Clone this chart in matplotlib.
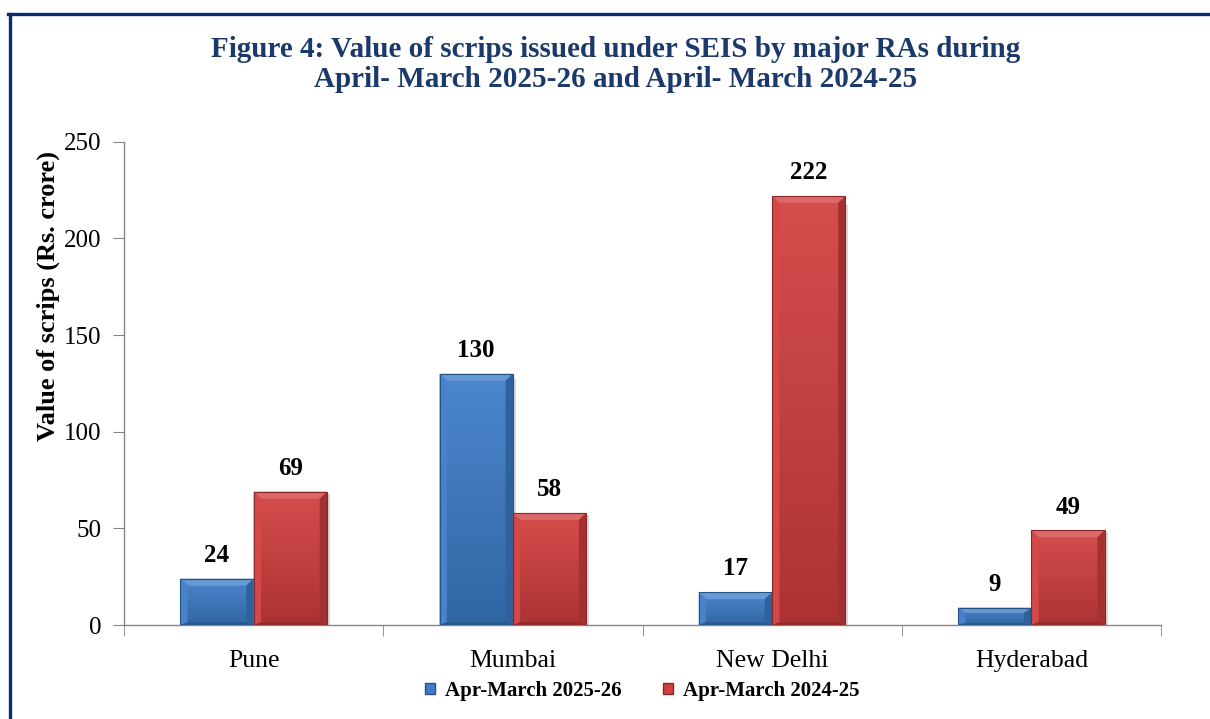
import numpy as np
import matplotlib
matplotlib.use("Agg")
import matplotlib.pyplot as plt
from matplotlib.patches import Polygon, Patch
from matplotlib.lines import Line2D
from matplotlib.colors import to_rgb

# -------------------------
# data
# -------------------------
categories = ["Pune", "Mumbai", "New Delhi", "Hyderabad"]
series_names = ["Apr-March 2025-26", "Apr-March 2024-25"]
vals_2025 = [24, 130, 17, 9]
vals_2024 = [69, 58, 222, 49]
y_ticks = [0, 50, 100, 150, 200, 250]

title = ("Figure 4: Value of scrips issued under SEIS by major RAs during\n"
         "April- March 2025-26 and April- March 2024-25")
y_label = "Value of scrips (Rs. crore)"

blue = "#3C7CC8"
red = "#D23E3E"

plt.rcParams["font.family"] = ["Liberation Serif", "DejaVu Serif"]

fig = plt.figure(figsize=(12.1, 7.19), dpi=100)
ax = fig.add_axes([0.1025, 0.1307, 0.857, 0.672])


def shade(c, f):
    r = np.array(to_rgb(c))
    if f >= 0:
        return tuple(r + (1 - r) * f)
    return tuple(r * (1 + f))


def bevel_bar(ax, rect, color):
    x, y = rect.get_x(), rect.get_y()
    w, h = rect.get_width(), rect.get_height()
    # vertical gradient body
    grad = np.linspace(0.0, 1.0, 64)[:, None]
    top_c = np.array(shade(color, 0.08))
    bot_c = np.array(shade(color, -0.18))
    img = top_c[None, None, :] * (1 - grad[..., None]) + bot_c[None, None, :] * grad[..., None]
    img = np.repeat(img, 4, axis=1)
    im = ax.imshow(img, extent=(x, x + w, y, y + h), origin="upper",
                   aspect="auto", zorder=2, interpolation="bilinear")
    im.set_clip_path(rect)
    dx = w * 0.10
    dy = min(3.6, h * 0.3)
    top = Polygon([(x, y + h), (x + w, y + h), (x + w - dx, y + h - dy), (x + dx, y + h - dy)],
                  closed=True, color=shade(color, 0.22), lw=0, zorder=3)
    left = Polygon([(x, y), (x, y + h), (x + dx, y + h - dy), (x + dx, y + dy * 0.4)],
                   closed=True, color=shade(color, 0.05), lw=0, zorder=3)
    right = Polygon([(x + w, y), (x + w, y + h), (x + w - dx, y + h - dy), (x + w - dx, y + dy * 0.4)],
                    closed=True, color=shade(color, -0.22), lw=0, zorder=3)
    bottom = Polygon([(x, y), (x + w, y), (x + w - dx, y + dy * 0.4), (x + dx, y + dy * 0.4)],
                     closed=True, color=shade(color, -0.3), lw=0, zorder=3)
    for p in (top, left, right, bottom):
        ax.add_patch(p)
    ax.add_patch(plt.Rectangle((x, y), w, h, fill=False, ec=shade(color, -0.35),
                               lw=0.8, zorder=4))
    # soft shadow on the right
    ax.add_patch(plt.Rectangle((x + w, y), w * 0.04, h * 0.98, color="#d8d8d8",
                               lw=0, zorder=1))


x = np.arange(len(categories))
bw = 0.283
bars1 = ax.bar(x - bw / 2, vals_2025, bw, color="none", zorder=1)
bars2 = ax.bar(x + bw / 2, vals_2024, bw, color="none", zorder=1)

for bars, col, vals in ((bars1, blue, vals_2025), (bars2, red, vals_2024)):
    for rect, v in zip(bars, vals):
        bevel_bar(ax, rect, col)
        ax.text(rect.get_x() + rect.get_width() / 2, v + 12.0, f"{v}",
                ha="center", va="center", fontsize=18, fontweight="bold",
                color="black", zorder=5)

ax.set_xlim(-0.5, len(categories) - 0.5)
ax.set_ylim(0, 250)
ax.set_yticks(y_ticks)
ax.set_yticklabels([str(t) for t in y_ticks], fontsize=18)
ax.set_xticks(x)
ax.set_xticklabels(categories, fontsize=18.5)
ax.set_xticks(np.arange(-0.5, len(categories)), minor=True)
ax.tick_params(axis="x", which="major", length=0, pad=18)
ax.tick_params(axis="x", which="minor", length=8, color="#868686", direction="out")
ax.tick_params(axis="y", length=8, color="#868686", direction="out", pad=8)

for s in ("top", "right"):
    ax.spines[s].set_visible(False)
for s in ("left", "bottom"):
    ax.spines[s].set_color("#868686")
    ax.spines[s].set_linewidth(1.0)

# title and axis label
fig.text(0.509, 0.910, title, ha="center", va="center", fontsize=21,
         fontweight="bold", color="#1B3A6B", linespacing=1.15)
fig.text(0.040, 0.588, y_label, rotation=90, ha="center", va="center",
         fontsize=19, fontweight="bold", color="black")

# legend
handles = [Patch(facecolor=blue, edgecolor=shade(blue, -0.35)),
           Patch(facecolor=red, edgecolor=shade(red, -0.35))]
leg = fig.legend(handles, series_names, loc="center", bbox_to_anchor=(0.531, 0.039),
                 ncol=2, frameon=False, handlelength=0.45, handleheight=0.45,
                 handletextpad=0.5, columnspacing=2.0,
                 prop={"size": 15, "weight": "bold"})

# frame lines (top and left)
fig.add_artist(Line2D([0.0066, 1.0], [0.9805, 0.9805], transform=fig.transFigure,
                      color="#0B2A6F", lw=2.4))
fig.add_artist(Line2D([0.0079, 0.0079], [0.0, 0.9805], transform=fig.transFigure,
                      color="#0B2A6F", lw=2.4))

fig.savefig("out.png", dpi=100)
